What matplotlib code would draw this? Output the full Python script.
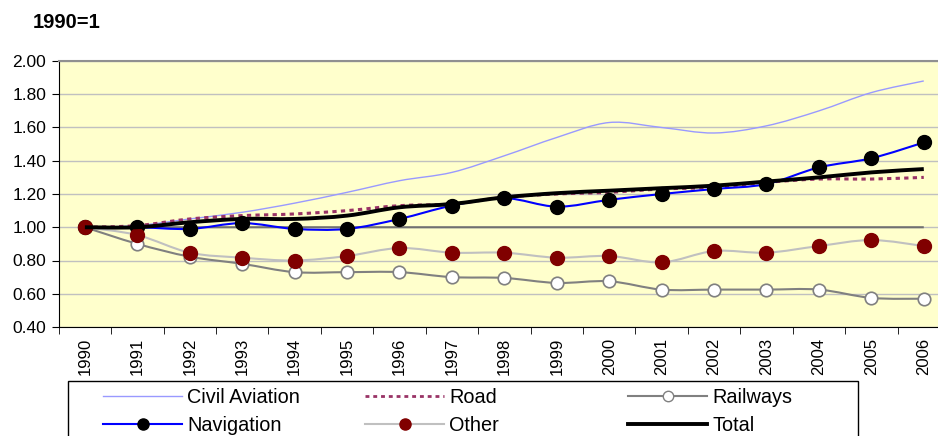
import numpy as np
import matplotlib
matplotlib.use("Agg")
import matplotlib.pyplot as plt
from matplotlib.path import Path
from matplotlib.patches import PathPatch, Rectangle
from matplotlib.lines import Line2D

plt.rcParams['font.family'] = ['Liberation Sans', 'DejaVu Sans']

years = [str(y) for y in range(1990, 2007)]
civil_aviation = [1.00, 1.01, 1.05, 1.09, 1.145, 1.21, 1.28, 1.33, 1.43, 1.54, 1.63, 1.60, 1.567, 1.61, 1.70, 1.81, 1.88]
road = [1.00, 1.01, 1.05, 1.07, 1.08, 1.10, 1.13, 1.14, 1.18, 1.20, 1.21, 1.23, 1.24, 1.27, 1.29, 1.29, 1.30]
railways = [1.00, 0.90, 0.823, 0.78, 0.73, 0.73, 0.73, 0.70, 0.695, 0.665, 0.675, 0.625, 0.625, 0.625, 0.625, 0.575, 0.57]
navigation = [1.00, 1.00, 0.99, 1.025, 0.99, 0.99, 1.05, 1.13, 1.175, 1.124, 1.165, 1.20, 1.23, 1.26, 1.36, 1.415, 1.51]
other = [1.00, 0.953, 0.847, 0.817, 0.80, 0.827, 0.875, 0.847, 0.847, 0.817, 0.827, 0.789, 0.857, 0.847, 0.887, 0.923, 0.887]
total = [1.00, 1.00, 1.03, 1.05, 1.05, 1.07, 1.12, 1.14, 1.18, 1.205, 1.22, 1.235, 1.25, 1.275, 1.30, 1.33, 1.35]
base = [1.00] * len(years)


def smooth_path(xs, ys):
    # Excel-style smoothed line: Catmull-Rom segments as cubic Beziers
    n = len(xs)
    verts = [(xs[0], ys[0])]
    codes = [Path.MOVETO]
    for i in range(n - 1):
        a, b = max(i - 1, 0), min(i + 2, n - 1)
        c1 = (xs[i] + (xs[i + 1] - xs[a]) / 6, ys[i] + (ys[i + 1] - ys[a]) / 6)
        c2 = (xs[i + 1] - (xs[b] - xs[i]) / 6, ys[i + 1] - (ys[b] - ys[i]) / 6)
        verts += [c1, c2, (xs[i + 1], ys[i + 1])]
        codes += [Path.CURVE4] * 3
    return Path(verts, codes)


fig = plt.figure(figsize=(9.38, 4.36), dpi=100)
ax = fig.add_axes([58.7 / 938, 1 - 327 / 436, (950 - 58.7) / 938, 266 / 436])
ax.set_facecolor('#FFFFCC')
x = np.arange(len(years))

ax.set_ylim(0.4, 2.0)
ax.set_xlim(-0.5, len(years) - 0.5)
ax.set_yticks(np.arange(0.4, 2.01, 0.2))
ax.set_yticklabels([f"{v:.2f}" for v in np.arange(0.4, 2.01, 0.2)], fontsize=12.5)
ax.yaxis.grid(True, color='#C0C0C0', lw=1)
ax.set_axisbelow(True)
ax.tick_params(axis='y', length=5, direction='out', pad=4)

ax.set_xticks(x)
ax.set_xticklabels(years, rotation=90, fontsize=12)
ax.set_xticks(np.arange(-0.5, len(years)), minor=True)
ax.tick_params(axis='x', which='major', length=0, pad=8)
ax.tick_params(axis='x', which='minor', length=5, direction='out')

ax.spines['right'].set_visible(False)
ax.spines['top'].set_color('#909090')
ax.spines['top'].set_linewidth(1.5)

series = [
    (base, dict(color='#707070', lw=1.5), None),
    (civil_aviation, dict(color='#9999FF', lw=1), None),
    (road, dict(color='#993366', lw=2.2, linestyle=(0, (1.4, 1.4)), capstyle='butt'), None),
    (railways, dict(color='#808080', lw=1.5), dict(mfc='white', mec='#808080', ms=9, mew=1.2)),
    (navigation, dict(color='#0000FF', lw=1.5), dict(mfc='black', mec='black', ms=10)),
    (other, dict(color='#C0C0C0', lw=1.5), dict(mfc='#800000', mec='#800000', ms=10)),
    (total, dict(color='black', lw=2.8), None),
]
for z, (vals, lstyle, mstyle) in enumerate(series):
    ax.add_patch(PathPatch(smooth_path(x, vals), fill=False, zorder=3 + 2 * z, **lstyle))
    if mstyle:
        ax.plot(x, vals, ls='none', marker='o', zorder=4 + 2 * z, clip_on=False, **mstyle)

fig.text(33 / 938, 1 - 22 / 436, '1990=1', fontsize=14.5, fontweight='bold', va='center')

handles = [
    (Line2D([], [], color='#9999FF', lw=1), 'Civil Aviation'),
    (Line2D([], [], color='#0000FF', lw=1.5, marker='o', mfc='black', mec='black', ms=8), 'Navigation'),
    (Line2D([], [], color='#993366', lw=2, linestyle=(0, (1.4, 1.4))), 'Road'),
    (Line2D([], [], color='#C0C0C0', lw=1.5, marker='o', mfc='#800000', mec='#800000', ms=8), 'Other'),
    (Line2D([], [], color='#808080', lw=1.5, marker='o', mfc='white', mec='#808080', ms=7.5), 'Railways'),
    (Line2D([], [], color='black', lw=2.8), 'Total'),
]
col_x = [103, 365, 628]
for i, cx in enumerate(col_x):
    h = handles[2 * i:2 * i + 2]
    fig.legend([a for a, _ in h], [b for _, b in h], loc='upper left',
               bbox_to_anchor=(cx / 938, 1 - 388 / 436), frameon=False,
               fontsize=14.3, handlelength=4.0, handletextpad=0.25,
               labelspacing=0.47, borderpad=0.0, borderaxespad=0)

fig.patches.append(Rectangle((68 / 938, -0.05), (858 - 68) / 938, 0.05 + 1 - 381 / 436,
                             transform=fig.transFigure, fill=False, ec='black', lw=1))

fig.savefig('out.png', dpi=100)
